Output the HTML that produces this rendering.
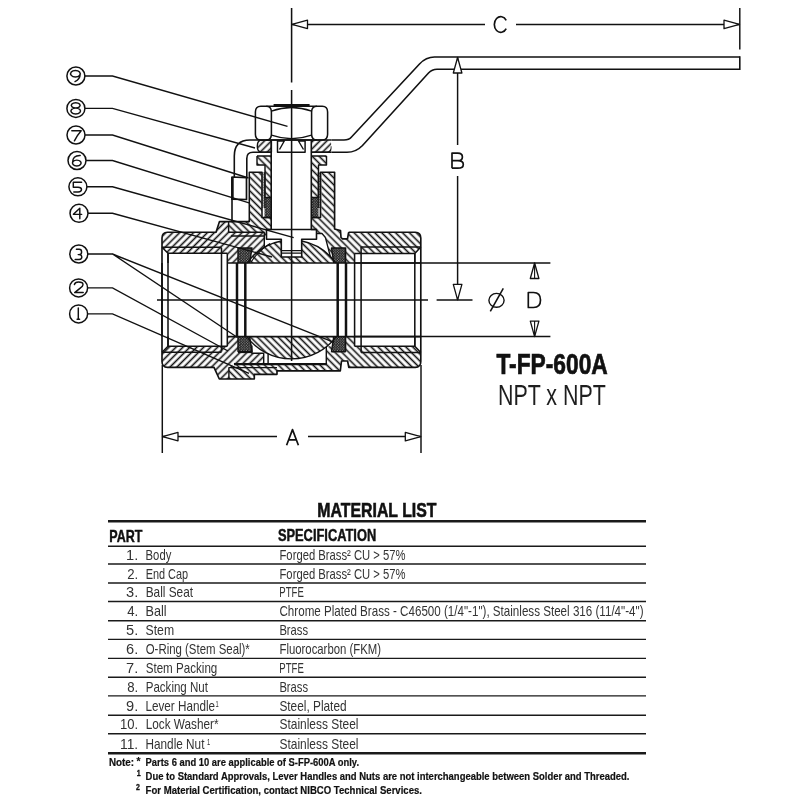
<!DOCTYPE html><html><head><meta charset="utf-8"><style>html,body{margin:0;padding:0;background:#fff;}svg{display:block;will-change:transform;}text{font-family:"Liberation Sans",sans-serif;}</style></head><body>
<svg width="800" height="800" viewBox="0 0 800 800">
<rect width="800" height="800" fill="#fff"/>
<defs>
<pattern id="hb" patternUnits="userSpaceOnUse" width="4.9" height="4.9" patternTransform="rotate(-45)"><rect width="4.9" height="4.9" fill="#fff"/><line x1="2.45" y1="-1" x2="2.45" y2="6" stroke="#111" stroke-width="1.6"/></pattern>
<pattern id="hf" patternUnits="userSpaceOnUse" width="4.9" height="4.9" patternTransform="rotate(45)"><rect width="4.9" height="4.9" fill="#fff"/><line x1="2.45" y1="-1" x2="2.45" y2="6" stroke="#111" stroke-width="1.6"/></pattern>
<pattern id="dt" patternUnits="userSpaceOnUse" width="2.6" height="2.6"><rect width="2.6" height="2.6" fill="#111"/><circle cx="0.65" cy="0.65" r="0.55" fill="#bbb"/><circle cx="1.95" cy="1.95" r="0.55" fill="#bbb"/></pattern>
<pattern id="dl" patternUnits="userSpaceOnUse" width="2.6" height="2.6"><rect width="2.6" height="2.6" fill="#ddd"/><circle cx="0.65" cy="0.65" r="0.7" fill="#333"/><circle cx="1.95" cy="1.95" r="0.7" fill="#333"/></pattern>
</defs>
<path d="M229,221.6 L249.3,221.6 L249.3,172.2 L262,172.2 L262,217.5 L271.2,217.5 L271.2,229.5 L311.3,229.5 L311.3,217.5 L321.3,217.5 L321.3,172.2 L334.6,172.2 L334.6,229 L340.5,230.5 L341,237.5 L342.5,238.8 L347.5,238.8 L348.5,233 L349.5,232.2 L415.3,232.2 Q420.8,232.2 420.8,238 L420.8,247 L414.8,253.4 L354.6,253.4 L354.6,263 L229,263 Z" fill="url(#hb)"/>
<path d="M162,263 L162,238 Q162,232.2 167.5,232.2 L216,232.2 L219.5,221.6 L228.6,221.6 L228.6,232.2 L264.3,232.2 L264.3,247.35 A54.0,54.0 0 0 0 249.96,259.5 L252,248 L238,248 L238,263 L227.3,263 L227.3,253.3 L168,253.3 L162,247.3 Z" fill="url(#hf)"/>
<path d="M264.3,236 L281.3,236 L281.3,240.97 A54.0,54.0 0 0 0 264.3,247.35 Z" fill="#fff"/>
<path d="M301.7,236 L316.6,236 L316.6,233.5 L322,233.5 L325.4,237.5 L330.3,256.44 A54.0,54.0 0 0 0 301.7,240.97 Z" fill="#fff"/>
<path d="M247.28,263 A54.0,54.0 0 0 1 281.3,240.97 L281.3,257 L301.7,257 L301.7,240.97 A54.0,54.0 0 0 1 335.72,263 Z" fill="url(#hb)"/>
<path d="M238,248 L252,248 L249.6,263 L238,263 Z" fill="url(#dt)"/>
<path d="M331.5,248 L345.6,248 L345.6,263 L333.8,263 Z" fill="url(#dt)"/>
<path d="M257,156 L271.2,156 L271.2,197.5 L265,197.5 L265,165 L257,165 Z" fill="url(#hb)"/>
<path d="M311.3,156 L326.5,156 L326.5,165 L318.5,165 L318.5,197.5 L311.3,197.5 Z" fill="url(#hb)"/>
<path d="M264.5,197.5 L271.2,197.5 L271.2,217.5 L264.5,217.5 Z" fill="url(#dt)"/>
<path d="M311.3,197.5 L318.5,197.5 L318.5,217.5 L311.3,217.5 Z" fill="url(#dt)"/>
<path d="M261.5,172.2 L264.8,172.2 L264.8,208 L261.5,208 Z" fill="url(#dl)"/>
<path d="M318.3,172.2 L321.3,172.2 L321.3,208 L318.3,208 Z" fill="url(#dl)"/>
<path d="M264.8,172.2 L264.8,208 M318.3,172.2 L318.3,208" fill="none" stroke="#111" stroke-width="1.18" stroke-linejoin="round"/>
<path d="M262,140 L271.4,140 L271.4,152.3 L262,152.3 Q257.3,152.3 257.3,146.2 Q257.3,140 262,140 Z" fill="url(#hf)"/>
<path d="M311.6,140 L327,140 Q331.5,140 331.5,146.2 Q331.5,152.3 327,152.3 L311.6,152.3 Z" fill="url(#hf)"/>
<path d="M228.9,379 L254.3,379 L254.3,374.3 L277,374.3 L277,370.9 L340.3,370.9 L341.5,361 L347.6,361 L348.8,367.4 L415.3,367.4 Q420.8,367.4 420.8,361.6 L420.8,352.6 L414.8,346.2 L354.6,346.2 L354.6,336.6 L228.9,336.6 Z" fill="url(#hb)"/>
<path d="M162,336.6 L162,361.6 Q162,367.4 167.5,367.4 L214,367.4 L219.3,379 L228.9,379 L228.9,367.2 L234,363.7 L263.7,363.7 L263.7,353.2 L251.9,353.2 L251.9,345.5 L238,352.4 L238,336.6 L227.3,336.6 L227.3,346.3 L168,346.3 L162,352.3 Z" fill="url(#hf)"/>
<path d="M251.9,345.5 L251.9,353.2 L263.7,353.2 L263.7,363.2 L326.3,363.2 L326.3,347 L332,345.5 L336.37,336.6 L246.63,336.6 Z" fill="#fff"/>
<path d="M246.63,336.6 A56.3,56.3 0 0 0 336.37,336.6 Z" fill="url(#hb)"/>
<path d="M238,352.4 L252,352.4 L249.6,336.6 L238,336.6 Z" fill="url(#dt)"/>
<path d="M331.5,352.4 L345.6,352.4 L345.6,336.6 L333.8,336.6 Z" fill="url(#dt)"/>
<path d="M227.3,263 L421,263" fill="none" stroke="#111" stroke-width="1.59" stroke-linejoin="round"/>
<path d="M227.3,336.6 L421,336.6" fill="none" stroke="#111" stroke-width="1.59" stroke-linejoin="round"/>
<path d="M162,336.6 L162,238 Q162,232.2 167.5,232.2 L216,232.2 L219.5,221.6 L232,221.6" fill="none" stroke="#111" stroke-width="1.65" stroke-linejoin="round"/>
<path d="M162,263 L162,361.6 Q162,367.4 167.5,367.4 L214,367.4 L219.3,379 L254.3,379 L254.3,374.3 L277,374.3 L277,370.9 L340.3,370.9 L341.5,361 L347.6,361 L348.8,367.4 L415.3,367.4 Q420.8,367.4 420.8,361.6 L420.8,238 Q420.8,232.2 415.3,232.2 L349.5,232.2 L348.5,233 L347.5,238.8 L342.5,238.8 L341,237.5 L340.5,230.5 L334.6,229 L334.6,172.2 L320.5,172.2 L320.5,217.5 L311.3,217.5" fill="none" stroke="#111" stroke-width="1.65" stroke-linejoin="round"/>
<path d="M248,221.6 L249.3,221.6 L249.3,172.2 L262,172.2 L262,217.5 L271.2,217.5" fill="none" stroke="#111" stroke-width="1.53" stroke-linejoin="round"/>
<path d="M162,247.3 L220.5,247.3 L221.5,248" fill="none" stroke="#111" stroke-width="1.53" stroke-linejoin="round"/>
<path d="M162,352.3 L220.5,352.3 L221.5,351.6" fill="none" stroke="#111" stroke-width="1.53" stroke-linejoin="round"/>
<path d="M168,253.3 L227.3,253.3" fill="none" stroke="#111" stroke-width="1.53" stroke-linejoin="round"/>
<path d="M168,346.3 L227.3,346.3" fill="none" stroke="#111" stroke-width="1.53" stroke-linejoin="round"/>
<path d="M361.1,247 L420.8,247" fill="none" stroke="#111" stroke-width="1.53" stroke-linejoin="round"/>
<path d="M361.1,352.6 L420.8,352.6" fill="none" stroke="#111" stroke-width="1.53" stroke-linejoin="round"/>
<path d="M354.6,253.4 L414.8,253.4" fill="none" stroke="#111" stroke-width="1.53" stroke-linejoin="round"/>
<path d="M354.6,346.2 L414.8,346.2" fill="none" stroke="#111" stroke-width="1.53" stroke-linejoin="round"/>
<path d="M162,247.3 L168,253.3 L168,263" fill="none" stroke="#111" stroke-width="1.53" stroke-linejoin="round"/>
<path d="M162,352.3 L168,346.3 L168,336.6" fill="none" stroke="#111" stroke-width="1.53" stroke-linejoin="round"/>
<path d="M420.8,247 L414.8,253.4 L414.8,263" fill="none" stroke="#111" stroke-width="1.53" stroke-linejoin="round"/>
<path d="M420.8,352.6 L414.8,346.2 L414.8,336.6" fill="none" stroke="#111" stroke-width="1.53" stroke-linejoin="round"/>
<path d="M168,253.3 L168,346.3" fill="none" stroke="#111" stroke-width="1.53" stroke-linejoin="round"/>
<path d="M221.5,253.3 L221.5,346.3" fill="none" stroke="#111" stroke-width="1.53" stroke-linejoin="round"/>
<path d="M227.3,253.3 L227.3,346.3" fill="none" stroke="#111" stroke-width="1.53" stroke-linejoin="round"/>
<path d="M361.1,253.3 L361.1,346.3" fill="none" stroke="#111" stroke-width="1.53" stroke-linejoin="round"/>
<path d="M354.6,253.3 L354.6,346.3" fill="none" stroke="#111" stroke-width="1.53" stroke-linejoin="round"/>
<path d="M414.8,253.3 L414.8,346.3" fill="none" stroke="#111" stroke-width="1.53" stroke-linejoin="round"/>
<path d="M221.5,248 L221.5,253.3" fill="none" stroke="#111" stroke-width="1.53" stroke-linejoin="round"/>
<path d="M221.5,351.6 L221.5,346.3" fill="none" stroke="#111" stroke-width="1.53" stroke-linejoin="round"/>
<path d="M361.1,247 L361.1,253.4" fill="none" stroke="#111" stroke-width="1.53" stroke-linejoin="round"/>
<path d="M361.1,352.6 L361.1,346.2" fill="none" stroke="#111" stroke-width="1.53" stroke-linejoin="round"/>
<path d="M237.0,263 L237.0,336.6" fill="none" stroke="#111" stroke-width="2.5" stroke-linejoin="round"/>
<path d="M245.3,263 L245.3,336.6" fill="none" stroke="#111" stroke-width="2.5" stroke-linejoin="round"/>
<path d="M337.7,263 L337.7,336.6" fill="none" stroke="#111" stroke-width="2.5" stroke-linejoin="round"/>
<path d="M346.0,263 L346.0,336.6" fill="none" stroke="#111" stroke-width="2.5" stroke-linejoin="round"/>
<path d="M238,263 L238,248 L252,248 L249.6,263" fill="none" stroke="#111" stroke-width="1.42" stroke-linejoin="round"/>
<path d="M238,336.6 L238,351.6 L252,351.6 L249.6,336.6" fill="none" stroke="#111" stroke-width="1.42" stroke-linejoin="round"/>
<path d="M345.6,263 L345.6,248 L331.5,248 L333.8,263" fill="none" stroke="#111" stroke-width="1.42" stroke-linejoin="round"/>
<path d="M345.6,336.6 L345.6,351.6 L331.5,351.6 L333.8,336.6" fill="none" stroke="#111" stroke-width="1.42" stroke-linejoin="round"/>
<path d="M228.6,221.6 L228.6,232.2 L264.3,232.2" fill="none" stroke="#111" stroke-width="1.42" stroke-linejoin="round"/>
<path d="M231,236 L264.3,236" fill="none" stroke="#111" stroke-width="1.3" stroke-linejoin="round"/>
<path d="M247.28,263 A54.0,54.0 0 0 1 281.3,240.97" fill="none" stroke="#111" stroke-width="1.42" stroke-linejoin="round"/>
<path d="M301.7,240.97 A54.0,54.0 0 0 1 335.72,263" fill="none" stroke="#111" stroke-width="1.42" stroke-linejoin="round"/>
<path d="M246.63,336.6 A56.3,56.3 0 0 0 336.37,336.6" fill="none" stroke="#111" stroke-width="1.42" stroke-linejoin="round"/>
<path d="M264.3,232.2 L264.3,247.35" fill="none" stroke="#111" stroke-width="1.42" stroke-linejoin="round"/>
<path d="M325.4,237.5 L330.3,256.44 M316.6,233.5 L322,233.5 L325.4,237.5" fill="none" stroke="#111" stroke-width="1.3" stroke-linejoin="round"/>
<path d="M251,262.28 A58.0,58.0 0 0 1 270,243.46" fill="none" stroke="#111" stroke-width="1.18" stroke-linejoin="round"/>
<path d="M228.9,367.2 L228.9,379" fill="none" stroke="#111" stroke-width="1.42" stroke-linejoin="round"/>
<path d="M234,364.2 L327,364.2" fill="none" stroke="#111" stroke-width="2.24" stroke-linejoin="round"/>
<path d="M229,367.6 L277,367.6" fill="none" stroke="#111" stroke-width="1.3" stroke-linejoin="round"/>
<path d="M251.9,345.5 L251.9,353.2 L263.7,353.2 L263.7,363.2 M268.1,353.2 L268.1,363.2 M326.3,347 L326.3,363.2" fill="none" stroke="#111" stroke-width="1.42" stroke-linejoin="round"/>
<path d="M238,352.4 L251.9,352.4" fill="none" stroke="#111" stroke-width="1.42" stroke-linejoin="round"/>
<path d="M271.2,152.3 L311.3,152.3 L311.3,229.5 L316.5,229.5 L316.5,239.2 L301.7,239.2 L301.7,257 L281.3,257 L281.3,239.2 L266.5,239.2 L266.5,229.5 L271.2,229.5 Z" fill="#fff"/>
<path d="M271.2,140 L271.2,229.5 L266.5,229.5 L266.5,239.2 L281.3,239.2 L281.3,257 L301.7,257 L301.7,239.2 L316.5,239.2 L316.5,229.5 L311.3,229.5 L311.3,140" fill="none" stroke="#111" stroke-width="1.59" stroke-linejoin="round"/>
<path d="M281.3,250.6 L301.7,250.6 M281.3,253.2 L301.7,253.2 M266.5,229.5 L316.5,229.5" fill="none" stroke="#111" stroke-width="1.3" stroke-linejoin="round"/>
<path d="M257,156 L271.2,156 M257,156 L257,165 L265,165 L265,197.5 L271.2,197.5" fill="none" stroke="#111" stroke-width="1.42" stroke-linejoin="round"/>
<path d="M326.5,156 L311.3,156 M326.5,156 L326.5,165 L318.5,165 L318.5,197.5 L311.3,197.5" fill="none" stroke="#111" stroke-width="1.42" stroke-linejoin="round"/>
<path d="M264.5,217.5 L271.2,217.5 M311.3,217.5 L318.5,217.5" fill="none" stroke="#111" stroke-width="1.42" stroke-linejoin="round"/>
<path d="M262,140 L271.4,140 L271.4,152.3 L262,152.3 Q257.3,152.3 257.3,146.2 Q257.3,140 262,140 Z" fill="none" stroke="#111" stroke-width="1.42" stroke-linejoin="round"/>
<path d="M311.6,152.3 L327,152.3 Q331.5,152.3 331.5,146.2" fill="none" stroke="#111" stroke-width="1.42" stroke-linejoin="round"/>
<path d="M277.5,140.5 L277.5,152.3 L305.1,152.3 L305.1,140.5" fill="none" stroke="#111" stroke-width="1.47" stroke-linejoin="round"/>
<path d="M277.5,141 L284.3,141 L279.5,149.5 M305.1,141 L298.5,141 L303.5,149.5" fill="none" stroke="#111" stroke-width="1.42" stroke-linejoin="round"/>
<path d="M255.4,111 Q255.4,106.2 260.5,106.2 L322.5,106.2 Q327.6,106.2 327.6,111 L327.6,135 Q327.6,140 322.5,140 L260.5,140 Q255.4,140 255.4,135 Z" fill="#fff"/>
<path d="M266.3,106.2 L260.8,106.2 Q255.4,106.2 255.4,112 L255.4,134.2 Q255.4,140 260.8,140 L266.3,140 Q271.4,140 271.4,134.2 L271.4,112 Q271.4,106.2 266.3,106.2 Z" fill="none" stroke="#111" stroke-width="1.53" stroke-linejoin="round"/>
<path d="M317,106.2 L322.3,106.2 Q327.6,106.2 327.6,112 L327.6,134.2 Q327.6,140 322.3,140 L317,140 Q311.6,140 311.6,134.2 L311.6,112 Q311.6,106.2 317,106.2 Z" fill="none" stroke="#111" stroke-width="1.53" stroke-linejoin="round"/>
<path d="M271.4,111.2 Q291.5,103.8 311.6,111.2 M271.4,135.2 Q291.5,142.2 311.6,135.2" fill="none" stroke="#111" stroke-width="1.42" stroke-linejoin="round"/>
<path d="M266.3,106.2 L317,106.2 M266.3,140 L317,140" fill="none" stroke="#111" stroke-width="1.42" stroke-linejoin="round"/>
<path d="M273.6,105.1 L309.6,105.1" fill="none" stroke="#111" stroke-width="2.24" stroke-linejoin="round"/>
<path d="M739.8,57 L434.5,57 Q426,57 419.5,64 L351.5,137 Q349,140 344,140 L331.5,140 L331.5,152.3 L347,152.3 Q356,152.3 362.5,145.5 L428.5,73 Q432,69.2 437,69.2 L739.8,69.2 Z" fill="#fff"/>
<path d="M739.8,57 L434.5,57 Q426,57 419.5,64 L351.5,137 Q349,140 344,140 L331.5,140" fill="none" stroke="#111" stroke-width="1.59" stroke-linejoin="round"/>
<path d="M739.8,69.2 L437,69.2 Q432,69.2 428.5,73 L362.5,145.5 Q356,152.3 347,152.3 L331.5,152.3" fill="none" stroke="#111" stroke-width="1.59" stroke-linejoin="round"/>
<path d="M739.8,56.3 L739.8,69.9" fill="none" stroke="#111" stroke-width="1.59" stroke-linejoin="round"/>
<path d="M331.5,140 L250,140 Q234.3,140 234.3,156 L234.3,177" fill="none" stroke="#111" stroke-width="1.59" stroke-linejoin="round"/>
<path d="M271.2,152.3 L253,152.3 Q246.8,152.3 246.8,158.5 L246.8,177 M311.3,152.3 L331.5,152.3" fill="none" stroke="#111" stroke-width="1.59" stroke-linejoin="round"/>
<path d="M232,177 L232,221.6 L249.3,221.6" fill="none" stroke="#111" stroke-width="1.59" stroke-linejoin="round"/>
<path d="M232,177 L246.5,177.6 L246.5,199.5 L232,199.2 Z" fill="none" stroke="#111" stroke-width="1.71" stroke-linejoin="round"/>
<path d="M232.6,177.5 L232.6,199.2" fill="none" stroke="#111" stroke-width="2.2" stroke-linejoin="round"/>
<path d="M291.6,8 L291.6,82.5 M291.6,90 L291.6,361" fill="none" stroke="#111" stroke-width="1.53" stroke-linejoin="round"/>
<path d="M157,300 L428,300 M436.6,300 L472.5,300" fill="none" stroke="#111" stroke-width="1.53" stroke-linejoin="round"/>
<path d="M739.8,8 L739.8,49.4" fill="none" stroke="#111" stroke-width="1.46" stroke-linejoin="round"/>
<path d="M292,24.4 L485,24.4 M516,24.4 L739.5,24.4" fill="none" stroke="#111" stroke-width="1.46" stroke-linejoin="round"/>
<path d="M292,24.4 L307.50,28.70 L307.50,20.10 Z" fill="#fff" stroke="#111" stroke-width="1.3" stroke-linejoin="round"/>
<path d="M739.5,24.4 L724.00,20.10 L724.00,28.70 Z" fill="#fff" stroke="#111" stroke-width="1.3" stroke-linejoin="round"/>
<path d="M506.2,20.4 A6.4,7.9 0 1 0 506.2,28.6" fill="none" stroke="#111" stroke-width="1.68" stroke-linejoin="round"/>
<path d="M457.6,57.5 L457.6,145 M457.6,176 L457.6,299.8" fill="none" stroke="#111" stroke-width="1.46" stroke-linejoin="round"/>
<path d="M457.6,57.5 L453.30,73.00 L461.90,73.00 Z" fill="#fff" stroke="#111" stroke-width="1.3" stroke-linejoin="round"/>
<path d="M457.6,299.8 L461.90,284.30 L453.30,284.30 Z" fill="#fff" stroke="#111" stroke-width="1.3" stroke-linejoin="round"/>
<path d="M452,168.2 L452,153.1 L457.8,153.1 Q462.4,153.1 462.4,156.9 Q462.4,160.6 457.8,160.6 L452,160.6 M457.8,160.6 Q463.3,160.6 463.3,164.4 Q463.3,168.2 457.8,168.2 L452,168.2" fill="none" stroke="#111" stroke-width="1.68" stroke-linejoin="round"/>
<path d="M354.6,262.9 L550.4,262.9 M354.6,336.6 L550.4,336.6" fill="none" stroke="#111" stroke-width="1.46" stroke-linejoin="round"/>
<path d="M534.6,263 L530.30,278.50 L538.90,278.50 Z" fill="#fff" stroke="#111" stroke-width="1.3" stroke-linejoin="round"/>
<path d="M534.6,336.6 L538.90,321.10 L530.30,321.10 Z" fill="#fff" stroke="#111" stroke-width="1.3" stroke-linejoin="round"/>
<path d="M534.6,263 L534.6,279 M534.6,321 L534.6,336.6" fill="none" stroke="#111" stroke-width="1.12" stroke-linejoin="round"/>
<path d="M528.3,292.5 L533.5,292.5 Q540.5,292.5 540.5,300 Q540.5,307.5 533.5,307.5 L528.3,307.5 Z" fill="none" stroke="#111" stroke-width="1.68" stroke-linejoin="round"/>
<ellipse cx="496.5" cy="300.3" rx="7.6" ry="6.9" fill="none" stroke="#111" stroke-width="1.4"/>
<path d="M490.3,311.3 L503.3,288.3" fill="none" stroke="#111" stroke-width="1.57" stroke-linejoin="round"/>
<path d="M162.3,365 L162.3,453 M421,365 L421,453" fill="none" stroke="#111" stroke-width="1.46" stroke-linejoin="round"/>
<path d="M162.5,436.6 L277,436.6 M308,436.6 L420.8,436.6" fill="none" stroke="#111" stroke-width="1.46" stroke-linejoin="round"/>
<path d="M162.5,436.6 L178.00,440.90 L178.00,432.30 Z" fill="#fff" stroke="#111" stroke-width="1.3" stroke-linejoin="round"/>
<path d="M420.8,436.6 L405.30,432.30 L405.30,440.90 Z" fill="#fff" stroke="#111" stroke-width="1.3" stroke-linejoin="round"/>
<path d="M286.6,445.2 L292.5,429.6 L298.4,445.2 M288.6,439.8 L296.4,439.8" fill="none" stroke="#111" stroke-width="1.68" stroke-linejoin="round"/>
<circle cx="75.9" cy="76.0" r="9.0" fill="none" stroke="#111" stroke-width="1.5"/>
<path transform="translate(75.9 76.0)" d="M-0.5,-5.6 A4.8,3.3 0 1 0 -0.49,-5.6 Z M4.3,-2.0 Q4.2,3.2 -0.9,5.6" fill="none" stroke="#111" stroke-width="1.45" stroke-linecap="round" stroke-linejoin="round"/>
<path d="M84.95,76.0 L112.5,76.0 L287.5,126.3" fill="none" stroke="#111" stroke-width="1.4"/>
<circle cx="75.9" cy="108.4" r="9.0" fill="none" stroke="#111" stroke-width="1.5"/>
<path transform="translate(75.9 108.4)" d="M-0.2,-5.6 A4.4,2.6 0 1 0 -0.19,-5.6 Z M-0.2,-0.4 A4.8,3.0 0 1 0 -0.19,-0.4 Z" fill="none" stroke="#111" stroke-width="1.45" stroke-linecap="round" stroke-linejoin="round"/>
<path d="M84.95,108.4 L112.5,108.4 L255,148" fill="none" stroke="#111" stroke-width="1.4"/>
<circle cx="76.0" cy="135.0" r="9.0" fill="none" stroke="#111" stroke-width="1.5"/>
<path transform="translate(76.0 135.0)" d="M-4.2,-4.3 L5.2,-4.3 Q1.8,-0.6 -1.6,5.8" fill="none" stroke="#111" stroke-width="1.45" stroke-linecap="round" stroke-linejoin="round"/>
<path d="M85.05,135.0 L112.5,135.0 L248.5,178" fill="none" stroke="#111" stroke-width="1.4"/>
<circle cx="77.0" cy="160.5" r="9.0" fill="none" stroke="#111" stroke-width="1.5"/>
<path transform="translate(77.0 160.5)" d="M3.2,-5.0 Q-4.6,-5.2 -4.5,2.4 M-0.2,-0.4 A4.3,2.95 0 1 0 -0.19,-0.4 Z" fill="none" stroke="#111" stroke-width="1.45" stroke-linecap="round" stroke-linejoin="round"/>
<path d="M86.05,160.5 L112.5,160.5 L249.8,203.2" fill="none" stroke="#111" stroke-width="1.4"/>
<circle cx="77.9" cy="186.8" r="9.0" fill="none" stroke="#111" stroke-width="1.5"/>
<path transform="translate(77.9 186.8)" d="M3.7,-4.6 L-4.6,-4.6 L-4.6,0.4 L0.2,0.4 A3.4,2.4 0 0 1 0.2,5.2 L-4.1,5.2" fill="none" stroke="#111" stroke-width="1.45" stroke-linecap="round" stroke-linejoin="round"/>
<path d="M86.95,186.8 L112.5,186.8 L293.7,237.6" fill="none" stroke="#111" stroke-width="1.4"/>
<circle cx="79.0" cy="213.3" r="9.0" fill="none" stroke="#111" stroke-width="1.5"/>
<path transform="translate(79.0 213.3)" d="M0.8,5.4 L0.8,-5.1 L-5.6,1.05 L2.7,1.05" fill="none" stroke="#111" stroke-width="1.45" stroke-linecap="round" stroke-linejoin="round"/>
<path d="M88.05,213.3 L112.5,213.3 L272,257" fill="none" stroke="#111" stroke-width="1.4"/>
<circle cx="78.8" cy="254.0" r="9.0" fill="none" stroke="#111" stroke-width="1.5"/>
<path transform="translate(78.8 254.0)" d="M-2.4,-4.8 L0.4,-4.8 A2.4,2.7 0 0 1 0.4,0.6 L-0.6,0.6 M0.4,0.6 A2.8,2.48 0 0 1 0.4,5.55 L-3.6,5.55" fill="none" stroke="#111" stroke-width="1.45" stroke-linecap="round" stroke-linejoin="round"/>
<path d="M87.85,254.0 L112.5,254.0 L237.5,337.5 M112.5,254.0 L334,342.4" fill="none" stroke="#111" stroke-width="1.4"/>
<circle cx="78.6" cy="287.9" r="9.0" fill="none" stroke="#111" stroke-width="1.5"/>
<path transform="translate(78.6 287.9)" d="M-4.2,-3.4 Q-3.6,-5.8 0,-5.8 Q4.4,-5.8 4.4,-3.2 Q4.3,-1.6 1.6,0.2 L-3.9,4.7 L4.6,4.7" fill="none" stroke="#111" stroke-width="1.45" stroke-linecap="round" stroke-linejoin="round"/>
<path d="M87.64999999999999,287.9 L112.5,287.9 L228,351" fill="none" stroke="#111" stroke-width="1.4"/>
<circle cx="78.6" cy="313.9" r="9.0" fill="none" stroke="#111" stroke-width="1.5"/>
<path transform="translate(78.6 313.9)" d="M-0.3,-5.9 L-0.3,5.2 M-1.5,5.3 L1.0,5.3" fill="none" stroke="#111" stroke-width="1.45" stroke-linecap="round" stroke-linejoin="round"/>
<path d="M87.64999999999999,313.9 L112.5,313.9 L249,373.4" fill="none" stroke="#111" stroke-width="1.4"/>
<g stroke="#1a1a1a" fill="none">
<line x1="108" y1="521.3" x2="646" y2="521.3" stroke-width="2.4"/>
<line x1="108" y1="546.25" x2="646" y2="546.25" stroke-width="1.4"/>
<line x1="108" y1="564" x2="646" y2="564" stroke-width="1.4"/>
<line x1="108" y1="583" x2="646" y2="583" stroke-width="1.4"/>
<line x1="108" y1="601.5" x2="646" y2="601.5" stroke-width="1.4"/>
<line x1="108" y1="620.7" x2="646" y2="620.7" stroke-width="1.4"/>
<line x1="108" y1="639.4" x2="646" y2="639.4" stroke-width="1.4"/>
<line x1="108" y1="658.4" x2="646" y2="658.4" stroke-width="1.4"/>
<line x1="108" y1="677.2" x2="646" y2="677.2" stroke-width="1.4"/>
<line x1="108" y1="695.9" x2="646" y2="695.9" stroke-width="1.4"/>
<line x1="108" y1="715.2" x2="646" y2="715.2" stroke-width="1.4"/>
<line x1="108" y1="733.75" x2="646" y2="733.75" stroke-width="1.4"/>
<line x1="108" y1="753.3" x2="646" y2="753.3" stroke-width="2.4"/>
</g>
<text x="317.37" y="516.60" font-size="19.6" font-weight="bold" fill="#111" stroke="#111" stroke-width="0.6" textLength="119.14" lengthAdjust="spacingAndGlyphs">MATERIAL LIST</text>
<text x="109.22" y="541.60" font-size="16.6" font-weight="bold" fill="#111" stroke="#111" stroke-width="0.45" textLength="33.15" lengthAdjust="spacingAndGlyphs">PART</text>
<text x="277.88" y="541.30" font-size="16.3" font-weight="bold" fill="#111" stroke="#111" stroke-width="0.45" textLength="98.33" lengthAdjust="spacingAndGlyphs">SPECIFICATION</text>
<text x="126.08" y="560.12" font-size="14.5" font-weight="normal" fill="#333" textLength="12.21" lengthAdjust="spacingAndGlyphs">1.</text>
<text x="145.61" y="560.12" font-size="14.5" font-weight="normal" fill="#333" textLength="25.67" lengthAdjust="spacingAndGlyphs">Body</text>
<text x="279.50" y="560.12" font-size="14.5" font-weight="normal" fill="#333" textLength="126.01" lengthAdjust="spacingAndGlyphs">Forged Brass² CU &gt; 57%</text>
<text x="127.17" y="578.50" font-size="14.5" font-weight="normal" fill="#333" textLength="10.99" lengthAdjust="spacingAndGlyphs">2.</text>
<text x="145.66" y="578.50" font-size="14.5" font-weight="normal" fill="#333" textLength="42.45" lengthAdjust="spacingAndGlyphs">End Cap</text>
<text x="279.50" y="578.50" font-size="14.5" font-weight="normal" fill="#333" textLength="126.01" lengthAdjust="spacingAndGlyphs">Forged Brass² CU &gt; 57%</text>
<text x="126.08" y="597.25" font-size="14.5" font-weight="normal" fill="#333" textLength="12.21" lengthAdjust="spacingAndGlyphs">3.</text>
<text x="145.68" y="597.25" font-size="14.5" font-weight="normal" fill="#333" textLength="47.32" lengthAdjust="spacingAndGlyphs">Ball Seat</text>
<text x="279.35" y="597.25" font-size="14.5" font-weight="normal" fill="#333" textLength="24.48" lengthAdjust="spacingAndGlyphs">PTFE</text>
<text x="127.17" y="616.10" font-size="14.5" font-weight="normal" fill="#333" textLength="10.99" lengthAdjust="spacingAndGlyphs">4.</text>
<text x="145.56" y="616.10" font-size="14.5" font-weight="normal" fill="#333" textLength="21.07" lengthAdjust="spacingAndGlyphs">Ball</text>
<text x="279.48" y="616.10" font-size="14.5" font-weight="normal" fill="#333" textLength="364.03" lengthAdjust="spacingAndGlyphs">Chrome Plated Brass - C46500 (1/4"-1"), Stainless Steel 316 (11/4"-4")</text>
<text x="126.08" y="635.05" font-size="14.5" font-weight="normal" fill="#333" textLength="12.21" lengthAdjust="spacingAndGlyphs">5.</text>
<text x="145.57" y="635.05" font-size="14.5" font-weight="normal" fill="#333" textLength="28.51" lengthAdjust="spacingAndGlyphs">Stem</text>
<text x="279.39" y="635.05" font-size="14.5" font-weight="normal" fill="#333" textLength="28.61" lengthAdjust="spacingAndGlyphs">Brass</text>
<text x="126.08" y="653.90" font-size="14.5" font-weight="normal" fill="#333" textLength="12.21" lengthAdjust="spacingAndGlyphs">6.</text>
<text x="145.72" y="653.90" font-size="14.5" font-weight="normal" fill="#333" textLength="104.07" lengthAdjust="spacingAndGlyphs">O-Ring (Stem Seal)*</text>
<text x="279.46" y="653.90" font-size="14.5" font-weight="normal" fill="#333" textLength="101.56" lengthAdjust="spacingAndGlyphs">Fluorocarbon (FKM)</text>
<text x="126.08" y="672.80" font-size="14.5" font-weight="normal" fill="#333" textLength="12.21" lengthAdjust="spacingAndGlyphs">7.</text>
<text x="145.68" y="672.80" font-size="14.5" font-weight="normal" fill="#333" textLength="71.63" lengthAdjust="spacingAndGlyphs">Stem Packing</text>
<text x="279.35" y="672.80" font-size="14.5" font-weight="normal" fill="#333" textLength="24.48" lengthAdjust="spacingAndGlyphs">PTFE</text>
<text x="127.17" y="691.55" font-size="14.5" font-weight="normal" fill="#333" textLength="10.99" lengthAdjust="spacingAndGlyphs">8.</text>
<text x="145.70" y="691.55" font-size="14.5" font-weight="normal" fill="#333" textLength="62.30" lengthAdjust="spacingAndGlyphs">Packing Nut</text>
<text x="279.39" y="691.55" font-size="14.5" font-weight="normal" fill="#333" textLength="28.61" lengthAdjust="spacingAndGlyphs">Brass</text>
<text x="126.08" y="710.55" font-size="14.5" font-weight="normal" fill="#333" textLength="12.21" lengthAdjust="spacingAndGlyphs">9.</text>
<text x="145.49" y="710.55" font-size="14.5" font-weight="normal" fill="#333" textLength="69.56" lengthAdjust="spacingAndGlyphs">Lever Handle</text>
<text x="279.40" y="710.55" font-size="14.5" font-weight="normal" fill="#333" textLength="67.19" lengthAdjust="spacingAndGlyphs">Steel, Plated</text>
<text x="120.01" y="729.48" font-size="14.5" font-weight="normal" fill="#333" textLength="18.14" lengthAdjust="spacingAndGlyphs">10.</text>
<text x="145.69" y="729.48" font-size="14.5" font-weight="normal" fill="#333" textLength="72.86" lengthAdjust="spacingAndGlyphs">Lock Washer*</text>
<text x="279.46" y="729.48" font-size="14.5" font-weight="normal" fill="#333" textLength="79.08" lengthAdjust="spacingAndGlyphs">Stainless Steel</text>
<text x="120.01" y="748.52" font-size="14.5" font-weight="normal" fill="#333" textLength="18.14" lengthAdjust="spacingAndGlyphs">11.</text>
<text x="145.51" y="748.52" font-size="14.5" font-weight="normal" fill="#333" textLength="58.90" lengthAdjust="spacingAndGlyphs">Handle Nut</text>
<text x="279.46" y="748.52" font-size="14.5" font-weight="normal" fill="#333" textLength="79.08" lengthAdjust="spacingAndGlyphs">Stainless Steel</text>
<text x="108.93" y="765.90" font-size="10.5" font-weight="bold" fill="#111" stroke="#111" stroke-width="0.2" textLength="25.12" lengthAdjust="spacingAndGlyphs">Note:</text>
<text x="136.61" y="765.20" font-size="11" font-weight="bold" fill="#111" stroke="#111" stroke-width="0.2" textLength="3.98" lengthAdjust="spacingAndGlyphs">*</text>
<text x="145.59" y="765.90" font-size="10.5" font-weight="bold" fill="#111" stroke="#111" stroke-width="0.2" textLength="213.43" lengthAdjust="spacingAndGlyphs">Parts 6 and 10 are applicable of S-FP-600A only.</text>
<text x="136.79" y="776.30" font-size="8.5" font-weight="bold" fill="#111" stroke="#111" stroke-width="0.3" textLength="3.92" lengthAdjust="spacingAndGlyphs">1</text>
<text x="145.59" y="780.20" font-size="10.5" font-weight="bold" fill="#111" stroke="#111" stroke-width="0.2" textLength="483.91" lengthAdjust="spacingAndGlyphs">Due to Standard Approvals, Lever Handles and Nuts are not interchangeable between Solder and Threaded.</text>
<text x="135.98" y="790.10" font-size="8.5" font-weight="bold" fill="#111" stroke="#111" stroke-width="0.3" textLength="3.88" lengthAdjust="spacingAndGlyphs">2</text>
<text x="145.59" y="793.60" font-size="10.5" font-weight="bold" fill="#111" stroke="#111" stroke-width="0.2" textLength="276.41" lengthAdjust="spacingAndGlyphs">For Material Certification, contact NIBCO Technical Services.</text>
<text x="496.48" y="374.30" font-size="29.5" font-weight="bold" fill="#111" stroke="#111" stroke-width="0.7" textLength="111.33" lengthAdjust="spacingAndGlyphs">T-FP-600A</text>
<text x="497.96" y="405.20" font-size="29.5" font-weight="normal" fill="#1e1e1e" textLength="107.77" lengthAdjust="spacingAndGlyphs">NPT x NPT</text>
<text x="215.6" y="707.4" font-size="9" fill="#333" textLength="3.2" lengthAdjust="spacingAndGlyphs">1</text>
<text x="207.0" y="745.2" font-size="9" fill="#333" textLength="3.2" lengthAdjust="spacingAndGlyphs">1</text>
</svg></body></html>
